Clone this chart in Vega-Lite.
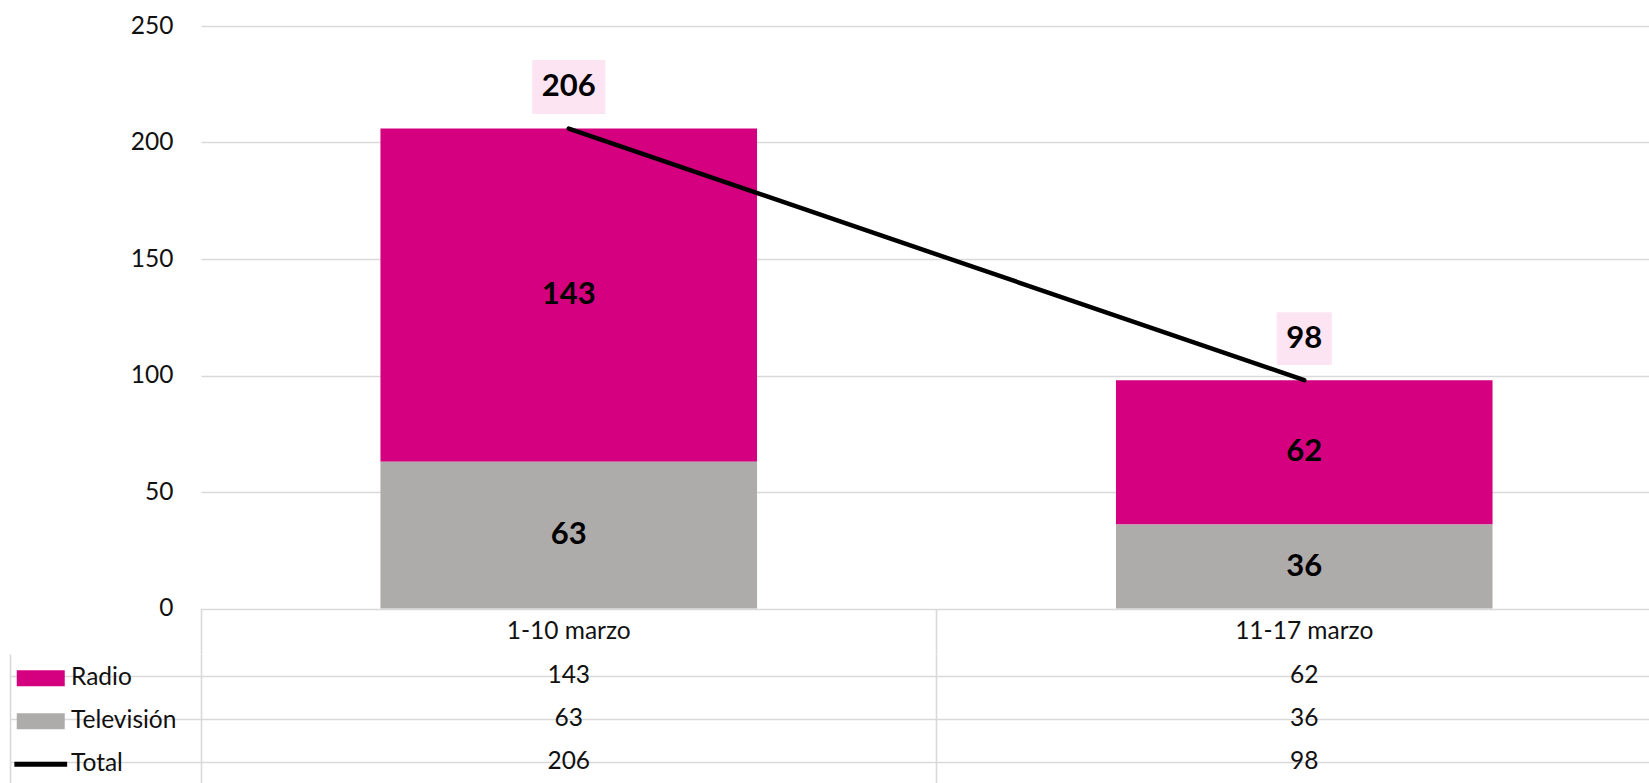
{
  "$schema": "https://vega.github.io/schema/vega-lite/v6.json",
  "background": "white",
  "padding": {"left": 9, "top": 13, "right": 0, "bottom": 0},
  "config": {
    "font": "Lato",
    "view": {"stroke": null},
    "axis": {"labelFont": "Lato", "labelColor": "#111111", "labelFontSize": 24.5, "title": null}
  },
  "data": {
    "values": [
      {"period": "1-10 marzo", "series": "Radio", "value": 143},
      {"period": "1-10 marzo", "series": "Televisión", "value": 63},
      {"period": "1-10 marzo", "series": "Total", "value": 206},
      {"period": "11-17 marzo", "series": "Radio", "value": 62},
      {"period": "11-17 marzo", "series": "Televisión", "value": 36},
      {"period": "11-17 marzo", "series": "Total", "value": 98}
    ]
  },
  "bounds": "flush",
  "spacing": 45,
  "vconcat": [
    {
      "width": 1448,
      "height": 582.5,
      "layer": [
        {
          "transform": [
            {"filter": "datum.series !== 'Total'"},
            {"stack": "value", "groupby": ["period"], "sort": [{"field": "series", "order": "descending"}], "as": ["v0", "v1"]},
            {"calculate": "(datum.v0 + datum.v1) / 2", "as": "mid"}
          ],
          "layer": [
            {
              "mark": {"type": "bar", "width": {"band": 0.512}},
              "encoding": {
                "x": {
                  "field": "period", "type": "nominal", "sort": null,
                  "scale": {"type": "band", "domain": ["1-10 marzo", "11-17 marzo"], "paddingInner": 0, "paddingOuter": 0, "range": [0, 1471]},
                  "axis": {
                    "orient": "bottom", "domain": false, "grid": false, "ticks": true,
                    "tickSize": 45, "tickColor": "#d9d9d9", "tickWidth": 1.6,
                    "bandPosition": 0, "labelAngle": 0,
                    "labelPadding": -22.5, "labelBaseline": "middle"
                  }
                },
                "y": {
                  "field": "v1", "type": "quantitative",
                  "scale": {"domain": [0, 250], "nice": false},
                  "axis": {
                    "values": [0, 50, 100, 150, 200, 250], "domain": false, "ticks": false,
                    "grid": true, "gridColor": "#d9d9d9", "gridWidth": 1.6, "labelPadding": 28
                  }
                },
                "y2": {"field": "v0"},
                "color": {
                  "field": "series", "type": "nominal",
                  "scale": {"domain": ["Radio", "Televisión", "Total"], "range": ["#D5007F", "#AEABAB", "#000000"]},
                  "legend": {
                    "orient": "none", "legendX": -172.5, "legendY": 640,
                    "title": null, "direction": "vertical",
                    "symbolSize": 256, "symbolStrokeWidth": 0,
                    "labelFontSize": 24.5, "labelColor": "#111111", "labelOffset": 18, "rowPadding": 18,
                    "encode": {
                      "symbols": {
                        "update": {
                          "shape": {"signal": "datum.value === 'Total' ? 'M-3.3,-0.3H3.3V0.3H-3.3Z' : 'M-3,-1H3V1H-3Z'"},
                          "fill": {"signal": "scale('color', datum.value)"},
                          "strokeWidth": {"value": 0}
                        }
                      }
                    }
                  }
                }
              }
            },
            {
              "mark": {"type": "text", "fontWeight": "bold", "fontSize": 31, "baseline": "middle", "color": "#000000"},
              "encoding": {
                "x": {"field": "period", "type": "nominal", "sort": null},
                "y": {"field": "mid", "type": "quantitative"},
                "text": {"field": "value", "type": "quantitative"}
              }
            }
          ]
        },
        {
          "transform": [{"filter": "datum.series === 'Total'"}],
          "layer": [
            {
              "mark": {"type": "line", "strokeWidth": 4.5, "strokeCap": "round"},
              "encoding": {
                "x": {"field": "period", "type": "nominal", "sort": null},
                "y": {"field": "value", "type": "quantitative"},
                "color": {"field": "series", "type": "nominal"}
              }
            },
            {
              "mark": {"type": "point", "filled": true, "opacity": 1, "size": 2916, "strokeWidth": 0, "yOffset": -41.5, "color": "#FCE4F2"},
              "encoding": {
                "x": {"field": "period", "type": "nominal", "sort": null},
                "y": {"field": "value", "type": "quantitative"},
                "shape": {
                  "field": "period", "type": "nominal",
                  "scale": {"domain": ["1-10 marzo", "11-17 marzo"], "range": ["M-1.352,-1H1.352V1H-1.352Z", "M-1.02,-0.98H1.02V0.98H-1.02Z"]},
                  "legend": null
                }
              }
            },
            {
              "mark": {"type": "text", "fontWeight": "bold", "fontSize": 31, "baseline": "middle", "dy": -41.5, "color": "#000000"},
              "encoding": {
                "x": {"field": "period", "type": "nominal", "sort": null},
                "y": {"field": "value", "type": "quantitative"},
                "text": {"field": "value", "type": "quantitative"}
              }
            }
          ]
        }
      ]
    },
    {
      "width": 1448,
      "height": 130,
      "mark": {"type": "text", "fontSize": 24.5, "baseline": "middle", "color": "#111111"},
      "encoding": {
        "x": {
          "field": "period", "type": "nominal", "sort": null,
          "scale": {"type": "band", "domain": ["1-10 marzo", "11-17 marzo"], "paddingInner": 0, "paddingOuter": 0, "range": [0, 1471]},
          "axis": {"grid": true, "bandPosition": 0, "gridColor": "#d9d9d9", "gridWidth": 1.6, "labels": false, "ticks": false, "domain": false}
        },
        "y": {
          "field": "series", "type": "nominal",
          "scale": {"domain": ["Radio", "Televisión", "Total"], "paddingInner": 0, "paddingOuter": 0},
          "axis": {
            "bandPosition": 0, "grid": true, "gridColor": "#d9d9d9", "gridWidth": 1.6,
            "domain": true, "domainColor": "#d9d9d9", "domainWidth": 1.6,
            "ticks": true, "tickSize": -191, "offset": 191, "tickColor": "#d9d9d9", "tickWidth": 1.6,
            "labels": false
          }
        },
        "text": {"field": "value", "type": "quantitative"}
      }
    }
  ]
}
